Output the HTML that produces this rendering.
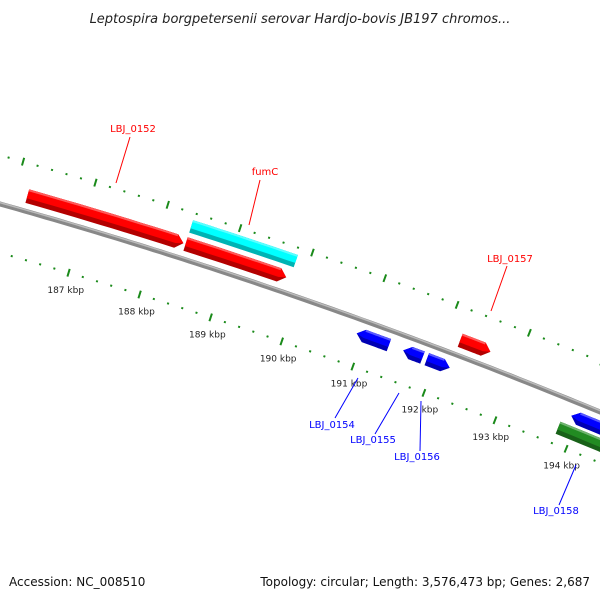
<!DOCTYPE html>
<html><head><meta charset="utf-8"><style>
body{margin:0;background:#fff;width:600px;height:600px;overflow:hidden;font-family:"DejaVu Sans","Liberation Sans",sans-serif}
svg{position:absolute;left:0;top:0}
</style></head><body>
<svg id="chart" width="600" height="600" viewBox="0 0 600 600">
<text x="300" y="23" text-anchor="middle" font-size="13" font-style="italic" fill="#222">Leptospira borgpetersenii serovar Hardjo-bovis JB197 chromos...</text>
<text x="9" y="586" font-size="12" fill="#111">Accession: NC_008510</text>
<text x="590" y="586" text-anchor="end" font-size="12" fill="#111">Topology: circular; Length: 3,576,473 bp; Genes: 2,687</text>
<g id="ticks"></g><g id="backbone"></g><g id="genes"></g><g id="labels"></g>
</svg>
<script>
const tickKbp = [187,188,189,190,191,192,193,194];
const geneNames = ["LBJ_0152","fumC","","LBJ_0157","LBJ_0154","LBJ_0155","LBJ_0156","LBJ_0158",""];
const geneStarts = [186.18,188.38,188.38,192.2,190.9,191.55,191.88,193.9,193.8];
const geneEnds = [188.35,189.83,189.78,192.62,191.35,191.82,192.2,194.6,195.2];
const geneStrands = [1,0,1,1,-1,-1,1,-1,0];
const geneLanes = ["out","out2","out","out","in","in","in","in","in2"];
const geneColors = ["#ff0000","#00ffff","#ff0000","#ff0000","#0000ff","#0000ff","#0000ff","#0000ff","#228b22"];
const labelColors = ["#ff0000","#ff0000","","#ff0000","#0000ff","#0000ff","#0000ff","#0000ff",""];
const labelPos = [[133,132,130,137,116,183],[265,175,260,180,249,225],null,[510,262,507,266,491,311],[332,428,335,418,358,378],[373,443,375,434,399,393],[417,460,420,451,421,401],[556,514,559,505,576,465],null];

const NS="http://www.w3.org/2000/svg";
function xOf(k){return 82+(k-187)*71.7;}
function yb(x){return 204+0.28*x+1.11e-4*x*x;}
function pt(k,d){const x0=xOf(k);const th=Math.atan(0.28+2.22e-4*x0);return [x0-d*Math.sin(th),yb(x0)+d*Math.cos(th)];}
function mk(tag,attrs,parent){const e=document.createElementNS(NS,tag);for(const a in attrs)e.setAttribute(a,attrs[a]);parent.appendChild(e);return e;}
const bb=document.getElementById('backbone');
let dd="";for(let k=185.6;k<=195.6;k+=0.1){const p=pt(k,0);dd+=(dd?"L":"M")+p[0].toFixed(1)+","+p[1].toFixed(1);}
const bl=mk('path',{d:dd,stroke:'#888',"stroke-width":5,fill:'none'},bb);


let dd2="";for(let k=185.6;k<=195.6;k+=0.1){const p=pt(k,-1.3);dd2+=(dd2?"L":"M")+p[0].toFixed(1)+","+p[1].toFixed(1);}
mk('path',{d:dd2,stroke:'#bbb',"stroke-width":1.5,fill:'none'},bb);
const tg=document.getElementById('ticks');
for(let i=Math.round(185.8*5);i<=Math.round(195.4*5);i++){
  const k=i/5;const major=(i%5===0);
  for(const side of [-1,1]){
    const a=pt(k,side*47-(major?4:1)),b=pt(k,side*47+(major?4:1));
    const t=mk('line',{x1:a[0],y1:a[1],x2:b[0],y2:b[1],stroke:'#1a8a1a',"stroke-width":2},tg);
    
    
  }
}
tickKbp.forEach(k=>{const p=pt(k,64);const t=mk('text',{x:p[0]+2,y:p[1]+4,"font-size":9,"text-anchor":"middle",fill:'#222'},tg);t.textContent=k+" kbp";

});
const lanes={out:[-22,-8],out2:[-40,-27],in:[8,21],in2:[24,37]};
function shade(c,f){const n=parseInt(c.slice(1),16);let r=n>>16,g=(n>>8)&255,b=n&255;const m=v=>Math.max(0,Math.min(255,Math.round(f>1?v+(255-v)*(f-1):v*f)));return `rgb(${m(r)},${m(g)},${m(b)})`;}
const gg=document.getElementById('genes'),lg=document.getElementById('labels');
geneStarts.forEach((s,i)=>{
  const e=geneEnds[i],st=geneStrands[i],[d1,d2]=lanes[geneLanes[i]],dm=(d1+d2)/2,al=0.1;
  const top=[],bot=[];
  const bs=st===-1?s+al:s, be=st===1?e-al:e;
  const n=12;for(let j=0;j<=n;j++){const k=bs+(be-bs)*j/n;top.push(pt(k,d1));bot.push(pt(k,d2));}
  let pts=[...top];
  if(st===1)pts.push(pt(e,dm));
  pts=pts.concat(bot.reverse());
  if(st===-1)pts.push(pt(s,dm));
  const g=mk('g',{},gg);
  
  
  mk('polygon',{points:pts.map(p=>p[0].toFixed(1)+","+p[1].toFixed(1)).join(" "),fill:shade(geneColors[i],0.7)},g);
  const t2=[],m2=[];for(let j=0;j<=n;j++){const k=bs+(be-bs)*j/n;t2.push(pt(k,d1));m2.push(pt(k,d1+(d2-d1)*0.65));}
  let p2=[...t2];if(st===1)p2.push(pt(e,dm));p2=p2.concat(m2.reverse());if(st===-1)p2.push(pt(s,dm));
  mk('polygon',{points:p2.map(p=>p[0].toFixed(1)+","+p[1].toFixed(1)).join(" "),fill:geneColors[i]},g);
  const t3=[],m3=[];for(let j=0;j<=n;j++){const k=bs+(be-bs)*j/n;t3.push(pt(k,d1));m3.push(pt(k,d1+2));}
  mk('polygon',{points:t3.concat(m3.reverse()).map(p=>p[0].toFixed(1)+","+p[1].toFixed(1)).join(" "),fill:shade(geneColors[i],1.35)},g);
  const L=labelPos[i];
  if(L&&geneNames[i]){
    const col=labelColors[i];
    mk('line',{x1:L[2],y1:L[3],x2:L[4],y2:L[5],stroke:col,"stroke-width":1},lg);
    const tx=mk('text',{x:L[0],y:L[1],"font-size":10,"text-anchor":"middle",fill:col},lg);
    tx.textContent=geneNames[i];
    
    
  }
});
</script>
</body></html>
